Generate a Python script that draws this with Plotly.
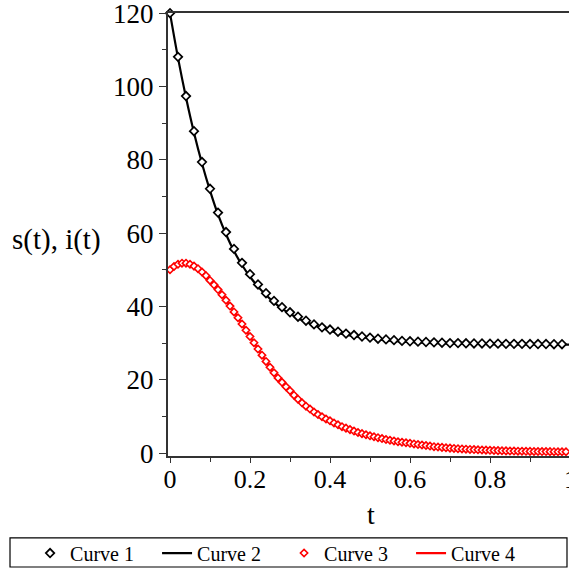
import plotly.graph_objects as go

FONT = "Liberation Serif"
AXIS_COLOR = "#333333"

# sampling grids of the two point sets
T_COARSE = [i / 50 for i in range(51)]
T_FINE = [i / 100 for i in range(101)]

# Curve 1: s(t) points, every 0.02
S_POINTS = [120.0, 108.1, 97.4, 87.8, 79.4, 72.1, 65.6, 60.3, 55.7, 51.9,
            48.8, 46.0, 43.6, 41.5, 39.8, 38.4, 37.2, 36.1, 35.1, 34.3,
            33.7, 33.1, 32.6, 32.2, 31.8, 31.5, 31.2, 31.0, 30.8, 30.6,
            30.5, 30.4, 30.3, 30.2, 30.1, 30.0, 30.0, 29.95, 29.9, 29.9,
            29.85, 29.85, 29.8, 29.8, 29.8, 29.75, 29.75, 29.75, 29.7, 29.7, 29.7]

# Curve 2: s(t) solution line
S_LINE = [120.0, 107.8, 97.0, 87.4, 79.0, 71.6, 65.1, 59.7, 55.1, 51.3,
          48.1, 45.4, 43.1, 41.1, 39.4, 38.0, 36.8, 35.8, 34.9, 34.1,
          33.4, 32.8, 32.3, 31.9, 31.6, 31.3, 31.0, 30.8, 30.6, 30.4,
          30.3, 30.2, 30.1, 30.0, 29.95, 29.9, 29.85, 29.8, 29.8, 29.75,
          29.75, 29.7, 29.7, 29.7, 29.65, 29.65, 29.65, 29.6, 29.6, 29.6, 29.6]

# Curve 3 / Curve 4: i(t), every 0.01
I_POINTS = [50.0, 50.9, 51.5, 51.8, 51.8, 51.5, 51.0, 50.3, 49.4, 48.4,
            47.1, 45.9, 44.6, 43.2, 41.7, 40.1, 38.5, 36.9, 35.2, 33.5,
            31.8, 30.1, 28.4, 26.7, 25.0, 23.4, 21.9, 20.5, 19.3, 18.1,
            17.0, 15.8, 14.7, 13.7, 12.8, 12.0, 11.2, 10.5, 9.9, 9.3,
            8.8, 8.2, 7.7, 7.2, 6.8, 6.4, 6.0, 5.6, 5.3, 5.0,
            4.7, 4.45, 4.2, 3.95, 3.7, 3.5, 3.3, 3.1, 2.95, 2.8,
            2.65, 2.5, 2.35, 2.2, 2.05, 1.9, 1.75, 1.65, 1.55, 1.45,
            1.35, 1.27, 1.2, 1.13, 1.06, 1.0, 0.95, 0.9, 0.85, 0.8,
            0.75, 0.71, 0.67, 0.63, 0.6, 0.57, 0.54, 0.52, 0.5, 0.48,
            0.46, 0.44, 0.42, 0.41, 0.4, 0.39, 0.38, 0.37, 0.36, 0.35, 0.34]
I_LINE = I_POINTS

Y_TICKS = [0, 20, 40, 60, 80, 100, 120]
X_TICKS = [0, 0.2, 0.4, 0.6, 0.8]
X_TICK_TEXT = ["0", "0.2", "0.4", "0.6", "0.8"]

fig = go.Figure()

# lines first so the point markers sit on top
fig.add_trace(go.Scatter(x=T_COARSE, y=S_LINE, mode="lines", name="Curve 2",
                         line=dict(color="black", width=2.2, shape="spline"),
                         legendrank=2, cliponaxis=False))
fig.add_trace(go.Scatter(x=T_FINE, y=I_LINE, mode="lines", name="Curve 4",
                         line=dict(color="red", width=2.2, shape="spline"),
                         legendrank=4, cliponaxis=False))
fig.add_trace(go.Scatter(x=T_COARSE, y=S_POINTS, mode="markers", name="Curve 1",
                         marker=dict(symbol="diamond", size=6.5, color="white",
                                     line=dict(color="black", width=1.7)),
                         legendrank=1, cliponaxis=False))
fig.add_trace(go.Scatter(x=T_FINE, y=I_POINTS, mode="markers", name="Curve 3",
                         marker=dict(symbol="diamond", size=5.6, color="white",
                                     line=dict(color="red", width=1.6)),
                         legendrank=3, cliponaxis=False))

fig.update_layout(
    width=569,
    height=569,
    margin=dict(l=168, r=0, t=13, b=113, autoexpand=False),
    plot_bgcolor="white",
    paper_bgcolor="white",
    font=dict(family=FONT, color="black", size=26),
    showlegend=True,
    legend=dict(
        orientation="h",
        x=-0.344, xanchor="left",
        y=-0.175, yanchor="top",
        borderwidth=0,
        bgcolor="rgba(0,0,0,0)",
        font=dict(family=FONT, size=20),
        entrywidth=82,
        itemwidth=30,
    ),
    xaxis=dict(
        range=[-0.005, 0.9975],
        tickvals=X_TICKS, ticktext=X_TICK_TEXT,
        ticks="outside", ticklen=5, tickwidth=1.2, tickcolor=AXIS_COLOR,
        minor=dict(dtick=0.1, ticks="outside", ticklen=4, tickwidth=1.2, tickcolor=AXIS_COLOR),
        showline=True, linecolor=AXIS_COLOR, linewidth=2, mirror=True,
        showgrid=False, zeroline=False,
        tickfont=dict(size=26),
        ticklabelstandoff=-6,
        ticklabeloverflow="allow",
    ),
    yaxis=dict(
        range=[-0.8, 120.05],
        tickvals=Y_TICKS,
        ticks="outside", ticklen=7, tickwidth=1.2, tickcolor=AXIS_COLOR,
        minor=dict(dtick=10, ticks="outside", ticklen=4, tickwidth=1.2, tickcolor=AXIS_COLOR),
        showline=True, linecolor=AXIS_COLOR, linewidth=2,
        showgrid=False, zeroline=False,
        tickfont=dict(size=27),
        ticklabeloverflow="allow",
    ),
    # legend frame spans the full width like the original
    shapes=[
        dict(type="rect", xref="paper", yref="paper",
             x0=-0.394, x1=0.995, y0=-0.2506, y1=-0.185,
             line=dict(color="black", width=1.2), fillcolor="rgba(0,0,0,0)"),
    ],
    annotations=[
        dict(text="s(t), i(t)", xref="paper", yref="paper", x=-0.394, y=0.4876,
             xanchor="left", yanchor="middle", showarrow=False, font=dict(size=29)),
        dict(text="t", xref="paper", yref="paper", x=0.506, y=-0.133,
             xanchor="center", yanchor="middle", showarrow=False, font=dict(size=28)),
        # the "1" tick label sits right on the page edge
        dict(text="1", xref="paper", yref="paper", x=1.0025, y=-0.054,
             xanchor="center", yanchor="middle", showarrow=False, font=dict(size=26)),
    ],
)

# drop the default body margin so the 569px figure fills the window exactly
fig.write_html("out.html", config=dict(displayModeBar=False),
               post_script="document.body.style.margin='0';document.body.style.overflow='hidden';")
